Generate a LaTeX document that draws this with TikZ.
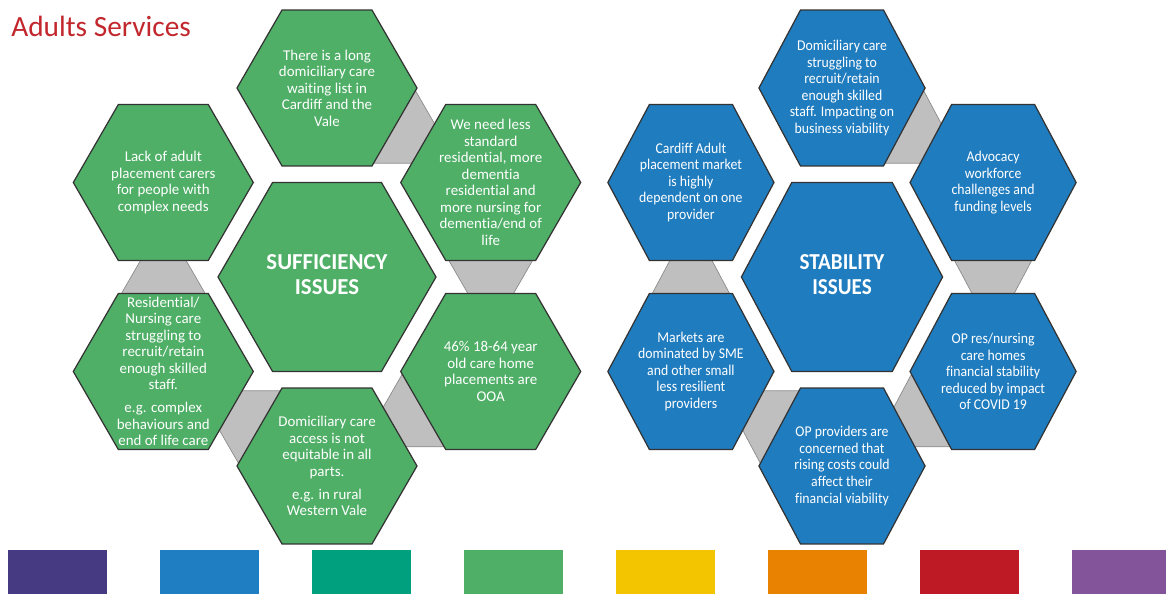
\documentclass[tikz,border=0pt]{standalone}
\usepackage{fontspec}
\setmainfont{Carlito}[Ligatures=NoCommon]
\usepackage{xcolor}
\usepackage{tikz}

\definecolor{hexgreen}{HTML}{4FAF67}
\definecolor{hexblue}{HTML}{1F7CBF}
\definecolor{linkgray}{HTML}{BFBFBF}
\definecolor{titlered}{HTML}{C1272D}
\definecolor{barpurple}{HTML}{463A82}
\definecolor{barblue}{HTML}{1F7EC1}
\definecolor{barteal}{HTML}{00A07F}
\definecolor{bargreen}{HTML}{4FAF67}
\definecolor{baryellow}{HTML}{F2C500}
\definecolor{barorange}{HTML}{E88200}
\definecolor{barred}{HTML}{BE1A26}
\definecolor{barviolet}{HTML}{83549A}

\tikzset{
	greenhex/.style={fill=hexgreen, draw=black!80, line width=0.7pt},
	bluehex/.style={fill=hexblue, draw=black!80, line width=0.7pt},
	link/.style={fill=linkgray, draw=black!45, line width=0.4pt},
	hextext/.style={text=white, align=center, inner sep=0pt, font=\fontsize{8.5}{9.4}\selectfont},
	maintext/.style={text=white, align=center, inner sep=0pt, font=\bfseries\fontsize{13}{14.2}\selectfont},
}

% flat-topped hexagon: style, centre x, centre y, radius
\newcommand{\hexagonpath}[4]{%
	\draw[#1] (#2,#3) ++(0:#4) -- ++(120:#4) -- ++(180:#4) -- ++(240:#4) -- ++(300:#4) -- ++(0:#4) -- cycle;}

\begin{document}
\begin{tikzpicture}[x=0.02cm, y=0.02cm]
	\useasboundingbox (0,0) rectangle (1166,594);

	\node[anchor=base west, text=titlered, inner sep=0pt, font=\fontsize{16.7}{20}\selectfont] (title) at (11,557) {Adults Services};

	% sufficiency cluster
	\begin{scope}[shift={(327,317)}]
		\foreach \a in {60,0,-60,-120,180}
			\draw[link, rotate=\a-180] (-163.7,56) -- ++(-60:100) -- ++(180:100) -- cycle;
		\hexagonpath{greenhex}{0}{0}{109}
		\hexagonpath{greenhex}{0}{189}{90}
		\hexagonpath{greenhex}{163.7}{94.5}{90}
		\hexagonpath{greenhex}{163.7}{-94.5}{90}
		\hexagonpath{greenhex}{0}{-189}{90}
		\hexagonpath{greenhex}{-163.7}{-94.5}{90}
		\hexagonpath{greenhex}{-163.7}{94.5}{90}
		\node[maintext] (suf0) at (0,2) {SUFFICIENCY\\ISSUES};
		\node[hextext] (suf1) at (0,189) {There is a long\\domiciliary care\\waiting list in\\Cardiff and the\\Vale};
		\node[hextext] (suf2) at (163.7,94.5) {We need less\\standard\\residential, more\\dementia\\residential and\\more nursing for\\dementia/end of\\life};
		\node[hextext] (suf3) at (163.7,-94.5) {46\% 18-64 year\\old care home\\placements are\\OOA};
		\node[hextext] (suf4) at (0,-189) {Domiciliary care\\access is not\\equitable in all\\parts.\\[3.7pt]e.g. in rural\\Western Vale};
		\node[hextext] (suf5) at (-163.7,-94.5) {Residential/\\Nursing care\\struggling to\\recruit/retain\\enough skilled\\staff.\\[3.7pt]e.g. complex\\behaviours and\\end of life care};
		\node[hextext] (suf6) at (-163.7,94.5) {Lack of adult\\placement carers\\for people with\\complex needs};
	\end{scope}

	% stability cluster
	\begin{scope}[shift={(842,317)}, xscale=0.923, every node/.append style={transform shape}]
		\foreach \a in {60,0,-60,-120,180}
			\draw[link, rotate=\a-180] (-163.7,56) -- ++(-60:100) -- ++(180:100) -- cycle;
		\hexagonpath{bluehex}{0}{0}{109}
		\hexagonpath{bluehex}{0}{189}{90}
		\hexagonpath{bluehex}{163.7}{94.5}{90}
		\hexagonpath{bluehex}{163.7}{-94.5}{90}
		\hexagonpath{bluehex}{0}{-189}{90}
		\hexagonpath{bluehex}{-163.7}{-94.5}{90}
		\hexagonpath{bluehex}{-163.7}{94.5}{90}
		\node[maintext] (sta0) at (0,2) {STABILITY\\ISSUES};
		\node[hextext] (sta1) at (0,189) {Domiciliary care\\struggling to\\recruit/retain\\enough skilled\\staff. Impacting on\\business viability};
		\node[hextext] (sta2) at (163.7,94.5) {Advocacy\\workforce\\challenges and\\funding levels};
		\node[hextext] (sta3) at (163.7,-94.5) {OP res/nursing\\care homes\\financial stability\\reduced by impact\\of COVID 19};
		\node[hextext] (sta4) at (0,-189) {OP providers are\\concerned that\\rising costs could\\affect their\\financial viability};
		\node[hextext] (sta5) at (-163.7,-94.5) {Markets are\\dominated by SME\\and other small\\less resilient\\providers};
		\node[hextext] (sta6) at (-163.7,94.5) {Cardiff Adult\\placement market\\is highly\\dependent on one\\provider};
	\end{scope}

	% colour bar
	\foreach \c [count=\i from 0] in {barpurple,barblue,barteal,bargreen,baryellow,barorange,barred,barviolet}
		\fill[\c] (8+152*\i,0) rectangle ++(99,44);
\end{tikzpicture}
\end{document}
